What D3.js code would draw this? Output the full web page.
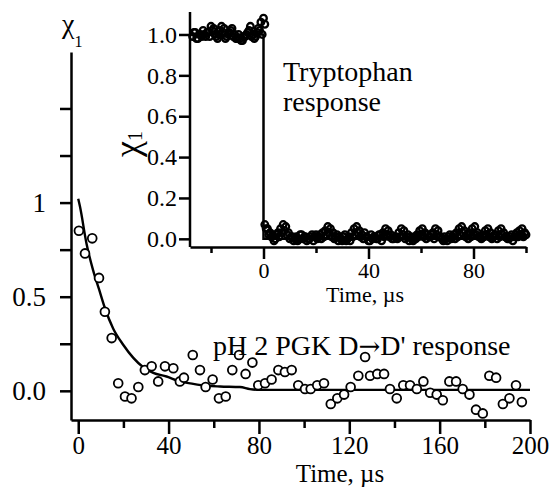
<!DOCTYPE html>
<html>
  <head>
    <meta charset="utf-8">
    <title>PGK response</title>
    <script src="https://d3js.org/d3.v7.min.js"></script>
    <style>
      body { margin: 0; background: #fff; }
      svg text { font-family: "Liberation Serif", "Times New Roman", serif; fill: #000; }
      .axis path, .axis line { stroke: #000; stroke-width: 2.5; }
    </style>
  </head>
  <body>
    <svg id="chart" width="555" height="487"></svg>
    <script>
      // main panel: pH 2 PGK D->D' response
      var mainTime = [0.3, 3.0, 6.2, 9.2, 11.8, 14.8, 17.7, 20.7, 23.6, 26.6,
        29.5, 32.5, 35.4, 38.4, 42.1, 45.0, 46.8, 50.7, 53.9, 56.4,
        59.5, 62.3, 65.3, 68.2, 71.2, 74.1, 77.1, 79.7, 82.7, 85.6,
        88.6, 91.5, 94.5, 97.4, 100.4, 102.9, 105.8, 108.8, 111.8, 114.7,
        117.7, 120.6, 124.0, 127.0, 129.2, 132.4, 135.4, 138.0, 141.0, 143.9,
        146.9, 149.9, 152.8, 155.8, 158.7, 161.4, 164.3, 167.3, 170.2, 173.2,
        176.1, 179.1, 182.0, 185.0, 188.0, 190.9, 193.8, 196.4];
      var mainChi = [0.85, 0.73, 0.81, 0.60, 0.42, 0.28, 0.04, -0.03, -0.04, 0.02,
        0.11, 0.13, 0.05, 0.13, 0.12, 0.05, 0.07, 0.19, 0.11, 0.02,
        0.06, -0.04, -0.03, 0.11, 0.19, 0.09, 0.15, 0.03, 0.04, 0.06,
        0.11, 0.10, 0.11, 0.03, 0.01, 0.01, 0.03, 0.04, -0.07, -0.04,
        -0.02, 0.02, 0.08, 0.18, 0.08, 0.09, 0.09, 0.01, -0.04, 0.03,
        0.03, 0.01, 0.05, -0.01, -0.02, -0.05, 0.05, 0.05, 0.01, -0.02,
        -0.10, -0.12, 0.08, 0.07, -0.07, -0.04, 0.03, -0.06];
      // fitted curve
      var fitTime = [0, 0.75, 3.7, 6.6, 9.2, 11.8, 15.5, 19.9, 24.4, 28.8, 33.2,
        39.1, 45, 50.9, 56.9, 62.8, 71.6, 76, 80.5, 120, 200];
      var fitChi = [1.02, 0.98, 0.78, 0.64, 0.54, 0.44, 0.33, 0.245, 0.175, 0.125, 0.095,
        0.076, 0.05, 0.037, 0.027, 0.023, 0.02, 0.009, 0.005, 0.005, 0.005];
      var mainXTicks = [0, 20, 40, 60, 80, 100, 120, 140, 160, 180, 200];
      var mainYTicks = [0, 0.25, 0.5, 0.75, 1, 1.25, 1.5];
      var mainYLabels = {"0": "0.0", "0.5": "0.5", "1": "1"};

      // inset: tryptophan response, sampled every 0.5 us
      var trpBeforeStart = -27;
      var trpBefore = [0.99, 1.01, 0.98, 1.00, 1.02, 0.99, 1.01, 1.04, 1.03, 0.99,
        1.00, 1.04, 1.03, 0.99, 1.01, 1.03, 1.00, 0.98, 0.98, 0.97,
        0.99, 1.01, 1.04, 1.00, 0.99, 1.03, 1.06, 1.08];
      var trpBeforeMid = [1.01, 0.98, 1.00, 0.99, 1.00, 1.01, 0.99, 1.02, 1.00, 0.98,
        1.02, 1.01, 0.98, 1.00, 1.02, 0.99, 0.98, 1.00, 0.97, 0.99,
        1.00, 1.02, 0.99, 0.98, 1.01, 1.02, 1.00, 1.05];
      var trpAfterStart = 0.5;
      var trpAfter = [0.07, 0.05, 0.03, 0.02, 0.00, 0.03, 0.05, 0.07, 0.06, 0.03,
        0.01, -0.01, 0.01, 0.00, 0.02, 0.01, -0.01, 0.00, 0.02, 0.01,
        0.00, 0.02, 0.03, 0.04, 0.06, 0.05, 0.03, 0.01, -0.01, 0.00,
        0.01, -0.01, 0.01, 0.03, 0.05, 0.06, 0.04, 0.02, 0.03, 0.01,
        -0.01, 0.00, 0.01, 0.00, 0.02, 0.03, 0.05, 0.04, 0.02, 0.00,
        0.01, 0.03, 0.05, 0.04, 0.01, -0.01, 0.00, 0.01, 0.02, 0.04,
        0.05, 0.03, 0.02, 0.01, 0.03, 0.05, 0.04, 0.01, -0.01, 0.00,
        0.01, 0.00, 0.02, 0.03, 0.05, 0.06, 0.04, 0.02, 0.03, 0.05,
        0.06, 0.03, 0.01, 0.02, 0.04, 0.05, 0.03, 0.01, 0.02, 0.04,
        0.05, 0.03, 0.01, 0.00, 0.02, 0.01, 0.03, 0.04, 0.05, 0.03];
      var trpAfterMid = [0.05, 0.02, 0.01, -0.01, 0.02, 0.01, 0.03, 0.04, 0.02, 0.00,
        0.01, 0.00, -0.01, 0.02, 0.00, 0.01, 0.00, 0.01, -0.01, 0.02,
        0.01, 0.00, 0.01, 0.02, 0.03, 0.01, 0.00, 0.02, 0.01, -0.01,
        0.02, 0.00, -0.01, 0.01, 0.02, 0.03, 0.01, 0.00, 0.01, -0.01,
        0.02, 0.01, 0.00, 0.02, -0.01, 0.01, 0.02, 0.01, 0.00, 0.01,
        0.00, 0.01, 0.02, 0.00, 0.02, 0.01, -0.01, 0.00, 0.01, 0.02,
        0.01, 0.00, 0.01, 0.02, 0.00, 0.02, 0.01, 0.00, 0.01, -0.01,
        0.02, 0.01, 0.00, 0.01, 0.02, 0.03, 0.01, 0.00, 0.01, 0.02,
        0.02, 0.01, 0.00, 0.01, 0.02, 0.01, 0.00, 0.02, 0.00, 0.01,
        0.02, 0.01, 0.00, 0.01, -0.01, 0.02, 0.01, 0.02, 0.01, 0.02];
      var stepTime = [-28, 0, 0, 100];
      var stepChi = [1.0, 1.0, 0.0, 0.0];
      var insetXTicks = [-20, 0, 20, 40, 60, 80, 100];
      var insetYTicks = [0, 0.2, 0.4, 0.6, 0.8, 1.0];

      var serif = "Liberation Serif";
      var svg = d3.select("#chart");

      // scales
      var x = d3.scaleLinear().domain([-3.2, 200]).range([71, 530]);
      var y = d3.scaleLinear().domain([-0.155, 1.8]).range([420, 52]);
      var xi = d3.scaleLinear().domain([-28, 100]).range([190, 526]);
      var yi = d3.scaleLinear().domain([-0.04, 1.11]).range([247, 12]);

      // main axes
      var xAxis = svg.append("g")
        .attr("class", "axis")
        .attr("transform", "translate(0,420)")
        .call(d3.axisBottom(x)
          .tickValues(mainXTicks)
          .tickSize(14)
          .tickSizeOuter(0)
          .tickPadding(2)
          .tickFormat(function(d) { return d % 40 == 0 ? d : ""; }));
      xAxis.selectAll(".tick line")
        .attr("y2", function(d) { return d % 40 == 0 ? 14 : 8; });
      xAxis.selectAll("text").style("font-size", "25px");

      var yAxis = svg.append("g")
        .attr("class", "axis")
        .attr("transform", "translate(71,0)")
        .call(d3.axisLeft(y)
          .tickValues(mainYTicks)
          .tickSize(11)
          .tickSizeOuter(0)
          .tickPadding(14)
          .tickFormat(function(d) { return mainYLabels[String(d)] || ""; }));
      yAxis.selectAll("text").style("font-size", "27px");

      // fit line
      var fit = d3.range(fitTime.length).map(function(i) { return [fitTime[i], fitChi[i]]; });
      svg.append("path")
        .datum(fit)
        .attr("fill", "none")
        .attr("stroke", "#000")
        .attr("stroke-width", 2.4)
        .attr("d", d3.line()
          .x(function(d) { return x(d[0]); })
          .y(function(d) { return y(d[1]); })
          .curve(d3.curveMonotoneX));

      // data points
      svg.append("g")
        .selectAll("circle")
          .data(d3.range(mainTime.length))
        .enter().append("circle")
          .attr("cx", function(i) { return x(mainTime[i]); })
          .attr("cy", function(i) { return y(mainChi[i]); })
          .attr("r", 4.4)
          .attr("fill", "#fff")
          .attr("stroke", "#000")
          .attr("stroke-width", 1.8);

      // main labels
      var chi = svg.append("text")
        .attr("x", 62)
        .attr("y", 33)
        .style("font-size", "28px");
      chi.append("tspan").text("\u03C7");
      chi.append("tspan")
        .attr("dy", 14)
        .style("font-size", "16px")
        .text("1");

      svg.append("text")
        .attr("x", 340)
        .attr("y", 481.5)
        .attr("text-anchor", "middle")
        .style("font-size", "25px")
        .text("Time, \u00B5s");

      var resp = svg.append("text")
        .attr("x", 213)
        .attr("y", 355)
        .style("font-size", "28px");
      resp.append("tspan").text("pH 2 PGK D");
      resp.append("tspan")
        .attr("class", "arrow")
        .style("font-size", "26px")
        .text("\u2192");
      resp.append("tspan").text("D' response");

      // inset axes
      var xiAxis = svg.append("g")
        .attr("class", "axis")
        .attr("transform", "translate(0,247)")
        .call(d3.axisBottom(xi)
          .tickValues(insetXTicks)
          .tickSize(12)
          .tickSizeOuter(0)
          .tickPadding(3)
          .tickFormat(function(d) { return d % 40 == 0 ? d : ""; }));
      xiAxis.selectAll(".tick line")
        .attr("y2", function(d) { return d % 40 == 0 ? 12 : 6; });
      xiAxis.selectAll("text").style("font-size", "22px");

      var yiAxis = svg.append("g")
        .attr("class", "axis")
        .attr("transform", "translate(190,0)")
        .call(d3.axisLeft(yi)
          .tickValues(insetYTicks)
          .tickSize(11)
          .tickSizeOuter(0)
          .tickPadding(2)
          .tickFormat(d3.format(".1f")));
      yiAxis.select(".domain").attr("d", "M0,247V12");
      yiAxis.selectAll("text").style("font-size", "24px");

      // inset points
      var trp = trpBefore.map(function(v, i) { return [trpBeforeStart + i, v]; })
        .concat(trpBeforeMid.map(function(v, i) { return [trpBeforeStart + 0.5 + i, v]; }))
        .concat(trpAfter.map(function(v, i) { return [trpAfterStart + i, v]; }))
        .concat(trpAfterMid.map(function(v, i) { return [trpAfterStart + 0.5 + i, v]; }));
      svg.append("g")
        .selectAll("circle")
          .data(trp)
        .enter().append("circle")
          .attr("cx", function(d) { return xi(d[0]); })
          .attr("cy", function(d) { return yi(d[1]); })
          .attr("r", 3.3)
          .attr("fill", "none")
          .attr("stroke", "#000")
          .attr("stroke-width", 2.3);

      // inset step
      svg.append("path")
        .datum(d3.range(stepTime.length).map(function(i) { return [stepTime[i], stepChi[i]]; }))
        .attr("fill", "none")
        .attr("stroke", "#000")
        .attr("stroke-width", 2.5)
        .attr("d", d3.line()
          .x(function(d) { return xi(d[0]); })
          .y(function(d) { return yi(d[1]); }));

      // inset labels
      var chiIn = svg.append("text")
        .attr("transform", "translate(139,157) rotate(-90)")
        .style("font-size", "36px");
      chiIn.append("tspan").text("\u03C7");
      chiIn.append("tspan")
        .attr("dy", 3)
        .style("font-size", "20px")
        .text("1");

      svg.append("text")
        .attr("x", 365)
        .attr("y", 302)
        .attr("text-anchor", "middle")
        .style("font-size", "22px")
        .text("Time, \u00B5s");

      svg.append("text")
        .attr("x", 283)
        .attr("y", 81)
        .style("font-size", "28px")
        .text("Tryptophan");
      svg.append("text")
        .attr("x", 283)
        .attr("y", 111)
        .style("font-size", "28px")
        .text("response");

      // one serif face for every text, arrow from DejaVu
      svg.selectAll("text").style("font-family", serif);
      svg.selectAll(".arrow").style("font-family", "DejaVu Serif");
    </script>
  </body>
</html>
